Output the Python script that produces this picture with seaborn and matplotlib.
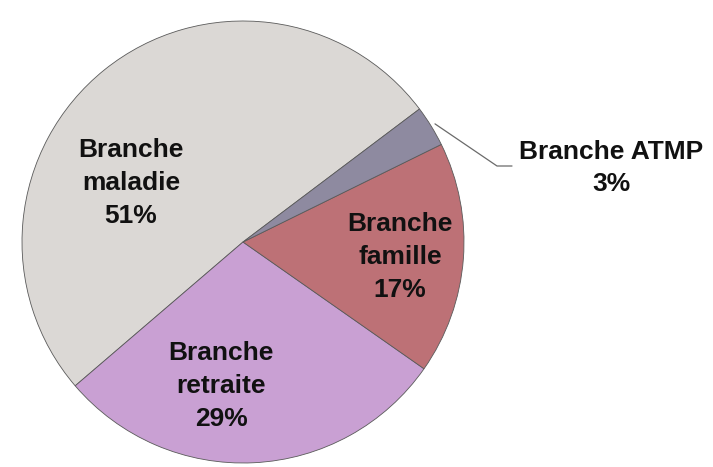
import matplotlib
matplotlib.use("Agg")
import matplotlib.pyplot as plt
import numpy as np
import seaborn as sns

# Répartition par branche (%)
branches = ["Branche\nmaladie", "Branche\nretraite", "Branche\nfamille", "Branche ATMP"]
shares = [51, 29, 17, 3]
pct_labels = ["51%", "29%", "17%", "3%"]
colors = ["#dbd8d5", "#c9a0d3", "#bd7176", "#8e8aa0"]

sns.set_theme(style="white")
plt.rcParams["font.family"] = ["Liberation Sans", "DejaVu Sans"]

W, H = 713, 467
fig = plt.figure(figsize=(W / 100, H / 100), dpi=100)
cx, cy, r = 243, 242, 221
ax = fig.add_axes([(cx - r) / W, (H - cy - r) / H, 2 * r / W, 2 * r / H])

wedges, _ = ax.pie(shares, colors=colors, startangle=37, counterclock=True,
                   wedgeprops={"edgecolor": "#5a5a5a", "linewidth": 0.6})
ax.set_xlim(-1, 1)
ax.set_ylim(-1, 1)
ax.set_aspect("equal")
ax.axis("off")

txt = dict(ha="center", va="center", fontsize=19, fontweight="bold",
           color="#111111", linespacing=1.45, clip_on=False)

# label centres in pixels of the figure
label_px = [(131, 183), (221, 386), (400, 257)]
for name, pct, (px, py) in zip(branches[:3], pct_labels[:3], label_px):
    ax.text((px - cx) / r, (cy - py) / r, f"{name}\n{pct}", **txt)

# ATMP: outside label with a leader line
w = wedges[3]
mid = np.deg2rad((w.theta1 + w.theta2) / 2)
x0, y0 = 1.02 * np.cos(mid), 1.02 * np.sin(mid)
xe, ye = (497 - cx) / r, (cy - 166) / r
xf = (512 - cx) / r
ax.plot([x0, xe, xf], [y0, ye, ye], color="#6a6a6a", lw=0.9, clip_on=False)
ax.text((611 - cx) / r, (cy - 168) / r, f"{branches[3]}\n{pct_labels[3]}", **txt)

fig.savefig("out.png", dpi=100, facecolor="white")
